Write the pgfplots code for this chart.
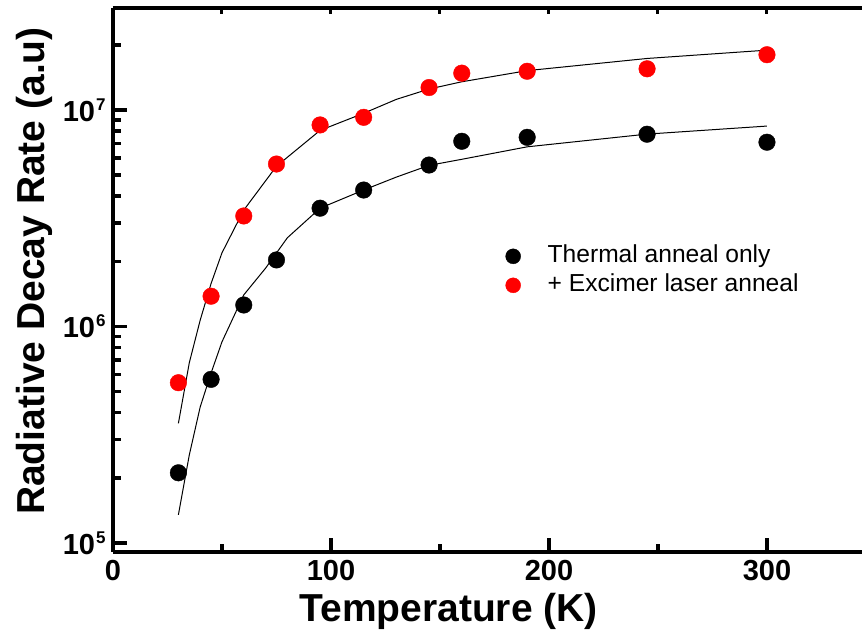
\documentclass[border=0pt]{standalone}
\usepackage{fontspec}
\setmainfont{Liberation Sans}
\usepackage{pgfplots}
\pgfplotsset{compat=1.18}

\newcommand\tickfont{\bfseries\fontsize{29}{29}\selectfont}
\newcommand\labfont{\bfseries\fontsize{39}{39}\selectfont}
\newcommand\ten[1]{10\kern1pt\raisebox{11pt}{\fontsize{17}{17}\selectfont #1}}

\begin{document}
\begin{tikzpicture}
\begin{axis}[
    scale only axis, width=749pt, height=544pt,
    xmin=0, xmax=343.6, ymin=9.09e4, ymax=2.96e7,
    ymode=log, enlargelimits=false,
    axis x line=box, axis y line=left,
    axis line style={line width=4pt, -},
    xtick pos=left,
    tick align=inside,
    major tick length=14pt, minor tick length=8pt,
    major tick style={black, line width=3.5pt},
    minor tick style={black, line width=3.5pt},
    xtick={0,100,200,300}, xticklabels={0,100,200,300},
    minor xtick={50,150,250},
    ytick={1e5,1e6,1e7}, yticklabels={\ten{5},\ten{6},\ten{7}},
    minor ytick={2e5,3e5,4e5,5e5,6e5,7e5,8e5,9e5,2e6,3e6,4e6,5e6,6e6,7e6,8e6,9e6,2e7},
    xticklabel style={font=\tickfont, yshift=-5pt},
    yticklabel style={font=\tickfont, xshift=-4pt},
    xlabel={Temperature (K)},
    ylabel={Radiative Decay Rate (a.u)},
    xlabel style={font=\labfont, at={(rel axis cs:0.448,0)}, anchor=base, yshift=-70pt},
    ylabel style={font=\labfont, at={(rel axis cs:-0.0921,0.5165)}, rotate=0, anchor=base},
    legend style={draw=none, fill=none, inner sep=0pt, at={(rel axis cs:0.524,0.565)},
        anchor=north west, row sep=6pt, column sep=27pt,
        nodes={inner sep=0pt, text height=18pt, text depth=5pt},
        font=\fontsize{24.6}{29}\selectfont},
    legend cell align=left,
    legend image code/.code={\draw[#1, mark size=7.5pt] plot coordinates {(0pt,0pt)};},
]
\addplot[only marks, mark=*, black, mark size=8.3pt] coordinates {
    (30,2.11e5) (45,5.70e5) (60,1.257e6) (75,2.03e6) (95,3.52e6) (115,4.27e6)
    (145,5.57e6) (160,7.17e6) (190,7.48e6) (245,7.73e6) (300,7.10e6)
};
\addlegendentry{Thermal anneal only}
\addplot[only marks, mark=*, red, mark size=8.3pt] coordinates {
    (30,5.50e5) (45,1.38e6) (60,3.24e6) (75,5.63e6) (95,8.53e6) (115,9.25e6)
    (145,1.27e7) (160,1.48e7) (190,1.51e7) (245,1.55e7) (300,1.80e7)
};
\addlegendentry{+ Excimer laser anneal}
\addplot[black, line width=1pt, forget plot] coordinates {
    (30,1.35e5) (35,2.55e5) (40,4.25e5) (45,6.1e5) (50,8.5e5) (60,1.40e6)
    (70,1.86e6) (80,2.57e6) (95,3.52e6) (115,4.27e6) (130,4.9e6) (145,5.55e6)
    (160,5.92e6) (190,6.76e6) (245,7.74e6) (300,8.43e6)
};
\addplot[black, line width=1pt, forget plot] coordinates {
    (30,3.57e5) (35,6.8e5) (40,1.07e6) (45,1.58e6) (50,2.19e6) (60,3.45e6)
    (75,5.5e6) (95,8.05e6) (115,9.66e6) (130,1.12e7) (145,1.25e7) (160,1.35e7)
    (190,1.52e7) (245,1.73e7) (300,1.89e7)
};
\end{axis}
\begin{axis}[
    scale only axis, width=749pt, height=544pt,
    xmin=0, xmax=343.6, ymin=9.09e4, ymax=2.96e7,
    ymode=log, enlargelimits=false,
    axis x line*=top, axis y line=none,
    axis line style={line width=4pt, -},
    tick align=inside, major tick length=6pt,
    major tick style={black, line width=3pt},
    xtick={0,50,100,150,200,250,300}, xticklabels={},
    ytick=\empty,
]
\end{axis}
\pgfresetboundingbox
\path[use as bounding box] (-113pt,-79pt) rectangle (750pt,552pt);
\end{tikzpicture}
\end{document}
